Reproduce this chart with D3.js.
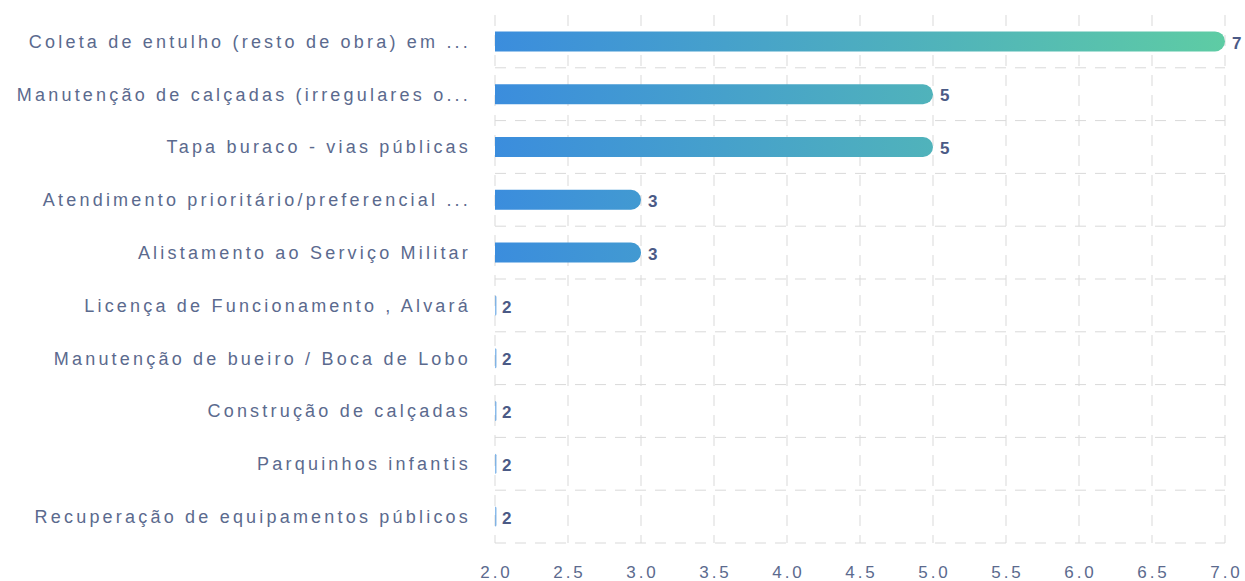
<!DOCTYPE html>
<html>
<head>
<meta charset="utf-8">
<script src="https://cdn.jsdelivr.net/npm/d3@7"></script>
<style>
  body { margin: 0; background: #fff; }
  svg text { font-family: "Liberation Sans", Arial, sans-serif; }
</style>
</head>
<body>
<div id="chart"></div>
<script>
(() => {
  // Data
  const categories = [
    "Coleta de entulho (resto de obra) em ...",
    "Manutenção de calçadas (irregulares o...",
    "Tapa buraco - vias públicas",
    "Atendimento prioritário/preferencial ...",
    "Alistamento ao Serviço Militar",
    "Licença de Funcionamento , Alvará",
    "Manutenção de bueiro / Boca de Lobo",
    "Construção de calçadas",
    "Parquinhos infantis",
    "Recuperação de equipamentos públicos"
  ];
  const values = [7, 5, 5, 3, 3, 2, 2, 2, 2, 2];
  const xTicks = [2.0, 2.5, 3.0, 3.5, 4.0, 4.5, 5.0, 5.5, 6.0, 6.5, 7.0];

  const width = 1245, height = 581;
  const margin = { top: 15, right: 20, bottom: 38, left: 495 };

  const svg = d3.select("#chart").append("svg")
    .attr("width", width)
    .attr("height", height);

  const x = d3.scaleLinear()
    .domain([2, 7])
    .range([margin.left, width - margin.right]);

  const y = d3.scaleBand()
    .domain(categories)
    .range([margin.top, height - margin.bottom]);

  // gradient spans the whole plot width
  const grad = svg.append("defs").append("linearGradient")
    .attr("id", "barGrad")
    .attr("gradientUnits", "userSpaceOnUse")
    .attr("x1", x(2)).attr("x2", x(7))
    .attr("y1", 0).attr("y2", 0);
  grad.append("stop").attr("offset", "0%").attr("stop-color", "#3b8ddd");
  grad.append("stop").attr("offset", "100%").attr("stop-color", "#5ecca4");

  const gridColor = "#d9d9d9";

  // vertical grid
  svg.append("g")
    .selectAll("line")
    .data(xTicks)
    .join("line")
    .attr("x1", d => x(d)).attr("x2", d => x(d))
    .attr("y1", margin.top).attr("y2", height - margin.bottom)
    .attr("stroke", gridColor)
    .attr("stroke-dasharray", "11,9");

  // horizontal grid at category boundaries (skip the top one)
  svg.append("g")
    .selectAll("line")
    .data(categories)
    .join("line")
    .attr("x1", x(2)).attr("x2", x(7))
    .attr("y1", d => y(d) + y.bandwidth())
    .attr("y2", d => y(d) + y.bandwidth())
    .attr("stroke", gridColor)
    .attr("stroke-dasharray", "11,9");

  const barH = 20, r = 10;

  // bars: square left end, rounded right end
  svg.append("g")
    .selectAll("path")
    .data(categories)
    .join("path")
    .attr("fill", "url(#barGrad)")
    .attr("fill-opacity", (d, i) => values[i] > 2 ? 1 : 0.6)
    .attr("d", (d, i) => {
      const x0 = x(2), x1 = Math.max(x(values[i]), x0 + 1.5);
      const y0 = y(d) + y.bandwidth() / 2 - barH / 2;
      const rr = Math.min(r, x1 - x0);
      return `M${x0},${y0}H${x1 - rr}A${rr},${rr} 0 0 1 ${x1},${y0 + rr}` +
             `V${y0 + barH - rr}A${rr},${rr} 0 0 1 ${x1 - rr},${y0 + barH}H${x0}Z`;
    });

  // value labels
  svg.append("g")
    .selectAll("text")
    .data(categories)
    .join("text")
    .attr("x", (d, i) => x(values[i]) + 7)
    .attr("y", d => y(d) + y.bandwidth() / 2 + 1)
    .attr("dy", "0.36em")
    .attr("font-size", "17px")
    .attr("font-weight", "bold")
    .attr("fill", "#4b5a86")
    .text((d, i) => values[i]);

  // category labels
  svg.append("g")
    .selectAll("text")
    .data(categories)
    .join("text")
    .attr("x", margin.left - 24)
    .attr("y", d => y(d) + y.bandwidth() / 2)
    .attr("dy", "0.36em")
    .attr("text-anchor", "end")
    .attr("font-size", "18px")
    .attr("letter-spacing", "3.2px")
    .attr("fill", "#5b6a8e")
    .text(d => d);

  // x axis labels
  svg.append("g")
    .selectAll("text")
    .data(xTicks)
    .join("text")
    .attr("x", d => x(d) + 1.5)
    .attr("y", height - 3)
    .attr("text-anchor", "middle")
    .attr("font-size", "17px")
    .attr("letter-spacing", "3px")
    .attr("fill", "#5b6a8e")
    .text(d => d.toFixed(1));
})();
</script>
</body>
</html>
